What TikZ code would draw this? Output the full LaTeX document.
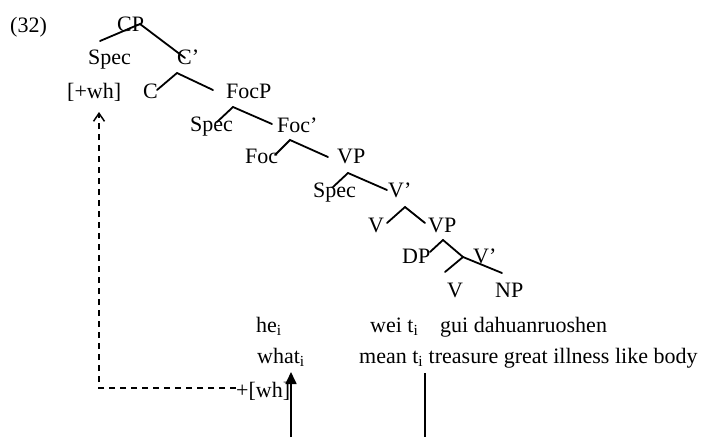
\documentclass[tikz,border=0pt]{standalone}
\usepackage{fontspec}
\setmainfont{Liberation Serif}
\usetikzlibrary{arrows.meta}
\begin{document}
\begin{tikzpicture}[x=1pt,y=-1pt,
  lbl/.style={anchor=base west,inner sep=0pt,font=\fontsize{22}{26}\selectfont},
  branch/.style={line width=1.8pt,line cap=round},
  movedash/.style={line width=1.6pt,dash pattern=on 6pt off 5pt,-{Straight Barb[length=8pt,width=11pt,line width=1.5pt]}},
  movesolid/.style={line width=1.7pt,-{Triangle[length=12pt,width=11pt]}}]
\useasboundingbox (0,0) rectangle (701,437);
% labels
\node[lbl] (num) at (10,32) {(32)};
\node[lbl] (cp) at (117,31) {CP};
\node[lbl] (spec1) at (88,64) {Spec};
\node[lbl] (cbar) at (177,64) {C’};
\node[lbl] (pwh) at (67,98) {[+wh]};
\node[lbl] (c) at (143,98) {C};
\node[lbl] (focp) at (226,98) {FocP};
\node[lbl] (spec2) at (190,131) {Spec};
\node[lbl] (focbar) at (277,132) {Foc’};
\node[lbl] (foc) at (245,163) {Foc};
\node[lbl] (vp1) at (337,163) {VP};
\node[lbl] (spec3) at (313,197) {Spec};
\node[lbl] (vbar1) at (388,197) {V’};
\node[lbl] (v1) at (368,232) {V};
\node[lbl] (vp2) at (428,232) {VP};
\node[lbl] (dp) at (402,263) {DP};
\node[lbl] (vbar2) at (473,263) {V’};
\node[lbl] (v2) at (447,297) {V};
\node[lbl] (np) at (495,297) {NP};
\node[lbl] (he) at (256,332) {he\textsubscript{i}};
\node[lbl] (wei) at (370,332) {wei t\textsubscript{i}};
\node[lbl] (gui) at (440,332) {gui dahuanruoshen};
\node[lbl] (what) at (257,363) {what\textsubscript{i}};
\node[lbl] (mean) at (359,363) {mean t\textsubscript{i} treasure great illness like body};
\node[lbl] (wh) at (236,397) {+[wh]};
% branch points
\coordinate (a1) at (140,24);  \coordinate (a1l) at (100,41); \coordinate (a1r) at (185,58);
\coordinate (a2) at (177,73);  \coordinate (a2l) at (157,90); \coordinate (a2r) at (213,90);
\coordinate (a3) at (233,107); \coordinate (a3l) at (217,122); \coordinate (a3r) at (272,124);
\coordinate (a4) at (290,140); \coordinate (a4l) at (275,155); \coordinate (a4r) at (328,157);
\coordinate (a5) at (348,173); \coordinate (a5l) at (333,187); \coordinate (a5r) at (387,190);
\coordinate (a6) at (405,207); \coordinate (a6l) at (387,223); \coordinate (a6r) at (425,223);
\coordinate (a7) at (443,240); \coordinate (a7l) at (430,252); \coordinate (a8) at (463,257);
\coordinate (a8l) at (445,272); \coordinate (a8r) at (502,273);
\draw[branch] (a1l) -- (a1) -- (a1r);
\draw[branch] (a2l) -- (a2) -- (a2r);
\draw[branch] (a3l) -- (a3) -- (a3r);
\draw[branch] (a4l) -- (a4) -- (a4r);
\draw[branch] (a5l) -- (a5) -- (a5r);
\draw[branch] (a6l) -- (a6) -- (a6r);
\draw[branch] (a7l) -- (a7) -- (a8);
\draw[branch] (a8l) -- (a8) -- (a8r);
% movement
\coordinate (corner) at (99,388);
\coordinate (dtip) at (99,112);
\coordinate (wsrc) at (291,437);
\coordinate (wtip) at (291,372);
\coordinate (tsrc) at (425,373);
\coordinate (tend) at (425,437);
\draw[movedash] (wh.west |- corner) -- (corner) -- (dtip);
\draw[movesolid] (wsrc) -- (wtip);
\draw[line width=1.7pt] (tsrc) -- (tend);
\end{tikzpicture}
\end{document}
